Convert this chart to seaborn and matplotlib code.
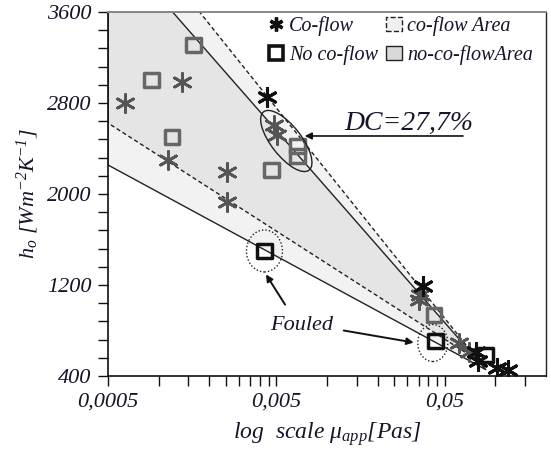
import numpy as np
import pandas as pd
import matplotlib
matplotlib.use("Agg")
import matplotlib.pyplot as plt
import seaborn as sns
from matplotlib.patches import Polygon, Ellipse, Patch
from matplotlib.lines import Line2D
from matplotlib.ticker import FixedLocator, NullFormatter
from matplotlib.transforms import ScaledTranslation

# Co-flow points (asterisks), grey and black ones
coflow_grey_x = [0.00063, 0.00137, 0.00113, 0.00253, 0.00253, 0.00486, 0.00507, 0.0356, 0.0352, 0.0605, 0.0694]
coflow_grey_y = [2800, 2985, 2299, 2193, 1930, 2607, 2519, 1112, 1068, 690, 611]
coflow_black_x = [0.00442, 0.0371, 0.0763, 0.0794, 0.1016, 0.1196]
coflow_black_y = [2853, 1191, 611, 532, 470, 453]

# No co-flow points (squares)
noco_grey_x = [0.00161, 0.00091, 0.0012, 0.00467, 0.00666, 0.00666, 0.0431]
noco_grey_y = [3310, 3002, 2501, 2211, 2422, 2334, 936]
noco_black_x = [0.00425, 0.0442, 0.0875]
noco_black_y = [1499, 708, 585]

# Area boundaries (log x, linear y)
coflow_area_x = [0.0005, 0.00175, 0.080, 0.0005]
coflow_area_y = [3600, 3600, 530, 2624]
noco_area_x = [0.0005, 0.00121, 0.088, 0.0005]
noco_area_y = [3600, 3600, 455, 2255]

x_major = [0.0005, 0.005, 0.05]
x_labels = ["0,0005", "0,005", "0,05"]
y_major = [400, 1200, 2000, 2800, 3600]

sns.set_style("ticks")
plt.rcParams["font.family"] = ["Liberation Serif", "DejaVu Serif"]
plt.rcParams["font.style"] = "italic"
plt.rcParams["mathtext.fontset"] = "custom"
plt.rcParams["mathtext.it"] = "Liberation Serif:italic"
plt.rcParams["mathtext.rm"] = "Liberation Serif:italic"
plt.rcParams["mathtext.default"] = "it"

txt_col = "#15152a"

fig = plt.figure(figsize=(5.51, 4.53), dpi=100)
ax = fig.add_axes([0.196, 0.170, 0.795, 0.8035])
ax.set_xscale("log")
ax.set_xlim(0.0005, 0.2)
ax.set_ylim(400, 3600)

# areas: overlapping translucent fills give the darker intersection
ax.add_patch(Polygon(np.column_stack([coflow_area_x, coflow_area_y]), closed=True,
                     facecolor=(0, 0, 0, 0.05), edgecolor="#222222", linestyle=(0, (3, 2)), linewidth=1.0, zorder=1))
ax.add_patch(Polygon(np.column_stack([noco_area_x, noco_area_y]), closed=True,
                     facecolor=(0, 0, 0, 0.05), edgecolor="#222222", linewidth=1.0, zorder=1))

star = (6, 2, 0)
sns.scatterplot(x=coflow_grey_x, y=coflow_grey_y, ax=ax, marker=star, s=170,
                color="#555555", edgecolor="#555555", linewidth=2.0, zorder=3)
sns.scatterplot(x=coflow_black_x, y=coflow_black_y, ax=ax, marker=star, s=170,
                color="#111111", edgecolor="#111111", linewidth=2.2, zorder=4)
sns.scatterplot(x=noco_grey_x, y=noco_grey_y, ax=ax, marker="s", s=110,
                facecolor="none", edgecolor="#666666", linewidth=2.5, zorder=3)
sns.scatterplot(x=noco_black_x, y=noco_black_y, ax=ax, marker="s", s=110,
                facecolor="none", edgecolor="#111111", linewidth=2.5, zorder=4)

# DC ellipse and fouled circles
def ring(x, y, w, h, ang, ls):
    tr = fig.dpi_scale_trans + ScaledTranslation(x, y, ax.transData)
    ax.add_patch(Ellipse((0, 0), w, h, angle=ang, transform=tr, fill=False,
                         edgecolor="#222222", linestyle=ls, linewidth=1.0, zorder=5))

ring(0.00573, 2466, 0.74, 0.30, -52, "-")
ring(noco_black_x[0], noco_black_y[0], 0.36, 0.42, 0, (0, (1, 1.5)))
ring(0.0425, 690, 0.30, 0.37, 0, (0, (1, 1.5)))

ax.annotate("", xy=(0.0071, 2510), xytext=(0.0667, 2510),
            arrowprops=dict(arrowstyle="-|>", color="#111111", lw=1.2, mutation_scale=10), zorder=6)
ax.text(0.01265, 2562, "DC=27,7%", fontsize=20, color=txt_col, ha="left", va="baseline")

ax.text(0.0046, 848, "Fouled", fontsize=16, color=txt_col, ha="left", va="center")
ax.annotate("", xy=(0.00425, 1314), xytext=(0.00575, 1007),
            arrowprops=dict(arrowstyle="-|>", color="#111111", lw=1.4, mutation_scale=10), zorder=6)
ax.annotate("", xy=(0.034, 690), xytext=(0.0121, 804),
            arrowprops=dict(arrowstyle="-|>", color="#111111", lw=1.4, mutation_scale=10), zorder=6)

# ticks
ax.xaxis.set_major_locator(FixedLocator(x_major))
ax.set_xticklabels(x_labels)
x_minor = [k * 0.0005 for k in range(2, 10)] + [k * 0.005 for k in range(2, 10)] + [0.1, 0.15]
ax.xaxis.set_minor_locator(FixedLocator(x_minor))
ax.xaxis.set_minor_formatter(NullFormatter())
ax.yaxis.set_major_locator(FixedLocator(y_major))
ax.yaxis.set_minor_locator(FixedLocator(list(range(400, 3601, 160))))
ax.tick_params(which="both", direction="out", length=7, width=1.0, color="#111111")
ax.tick_params(which="major", labelsize=16, labelcolor=txt_col, pad=5)

for side in ["left", "bottom"]:
    ax.spines[side].set_color("#111111")
    ax.spines[side].set_linewidth(1.2)
ax.spines["top"].set_color("#888888")
ax.spines["top"].set_linewidth(1.4)
ax.spines["right"].set_color("#222222")
ax.spines["right"].set_linewidth(1.0)

ax.set_xlabel("log  scale μ$_{app}$[Pas]", fontsize=17, color=txt_col, labelpad=6)
ax.set_ylabel("h$_o$ [Wm$^{-2}$K$^{-1}$]", fontsize=16, color=txt_col, labelpad=4)

handles = [
    Line2D([], [], marker=star, color="#111111", linestyle="none", markersize=10, markeredgewidth=2.4),
    Line2D([], [], marker="s", color="#111111", markerfacecolor="white", linestyle="none", markersize=10, markeredgewidth=2.6),
    Patch(facecolor="#f0f0f0", edgecolor="#222222", linestyle="--", linewidth=1.0),
    Patch(facecolor="#d9d9d9", edgecolor="#222222", linewidth=1.0),
]
labels = ["Co-flow", "No co-flow", "co-flow Area", "no-co-flowArea"]
ax.legend(handles, labels, loc="upper left", bbox_to_anchor=(0.36, 0.995), ncol=2, frameon=False,
          fontsize=14.5, handlelength=0.8, handletextpad=0.25, columnspacing=0.4, labelspacing=0.45,
          borderpad=0.1, borderaxespad=0.0, labelcolor=txt_col)

fig.savefig("out.png", dpi=100)
